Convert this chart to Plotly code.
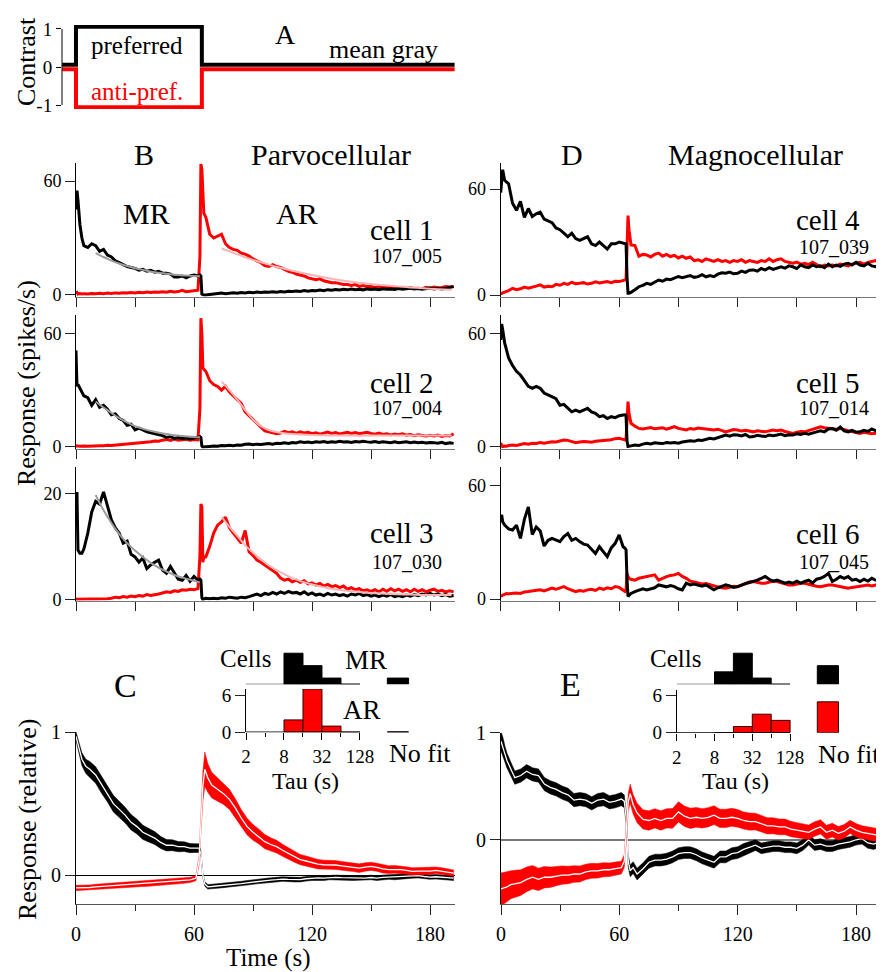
import numpy as np
import plotly.graph_objects as go

# page is photographed at 884x972; the browser adds an 8 px body margin
PAGE_W, PAGE_H, OFF = 884, 972, 8
W, H = PAGE_W - OFF, PAGE_H - OFF
FONT = "Liberation Serif"

# ---------------- data ----------------
# Panel A: stimulus contrast
A_T = [-7, 0, 0, 64, 64, 192.5]
A_PREF = [0, 0, 1, 1, 0, 0]
A_ANTI = [0, 0, -1, -1, 0, 0]

# time grid of single-cell traces (s)
T = [0, 0.5, 1, 2, 3, 4] + list(range(6, 63, 2)) + [63, 63.5, 64, 64.5, 65, 66] + list(range(68, 193, 2))

cell1_pref = [45, 55, 50, 37, 30, 26,
              25, 27, 26, 23, 24, 21, 20, 18, 17, 16,
              15, 14.5, 14, 13, 13.5, 12.5, 13, 12, 12.5, 11.5,
              11.5, 11, 9.5, 9.5, 10, 9, 10, 10.5, 10,
              10.5, 10, 0.5, 0, 0, 0,
              0.3, 0.5, 0.8, 1, 0.7, 1, 1.2, 0.9, 1.3, 1.1,
              1.4, 1.2, 1.5, 1.3, 1.6, 1.4, 1.7, 1.5, 1.8, 1.6,
              2, 1.8, 2.1, 1.9, 2.3, 2, 2.4, 2.2, 2.6, 2.3,
              2.8, 2.5, 2.9, 2.6, 3, 2.7, 3.1, 2.8, 3, 2.7,
              3.2, 2.9, 3.1, 2.8, 3.3, 3, 3.2, 2.9, 3.4, 3,
              3.2, 3.5, 3.1, 3.4, 3, 3.3, 3.6, 3.2, 3.5, 3.1,
              3.4, 4, 4.4]
cell1_anti = [2, 1.5, 0.5, 0.8, 0.5, 0.7,
              0.5, 0.8, 0.6, 0.9, 0.7, 1, 0.8, 1.1, 0.9, 1.2,
              1, 1.3, 1.1, 1.4, 1.2, 1.5, 1.3, 1.6, 1.4, 1.7,
              1.5, 2, 1.6, 1.8, 2.5, 1.7, 1.9, 2.2, 2.5,
              20, 69, 66, 50, 43, 41,
              32, 30, 31, 32, 27, 25, 24, 23.5, 22, 21.5,
              20.5, 19, 18, 17, 15.5, 15, 16, 15, 14.5, 13.5,
              12.5, 12, 11, 10.5, 10, 9, 8.5, 8, 8.5, 7.5,
              7, 6.5, 6.5, 6, 5.5, 5.5, 5, 5.5, 4.5, 5,
              4.5, 4.5, 4, 4.5, 4, 4.2, 3.8, 4, 3.5, 3.8,
              3.5, 3.8, 3.4, 3.6, 3.3, 4, 3.6, 4.2, 3.8, 4,
              4.5, 4.2, 4.5]
cell2_pref = [51, 32, 33, 31, 29, 27,
              26, 22, 25, 21, 22, 20, 17, 17.5, 15, 14,
              11.5, 12, 9, 10, 9, 8, 7.5, 7, 6.5, 6,
              5, 5.5, 4.5, 5, 4.5, 4.8, 4.2, 4.8, 5.5,
              5.5, 5, 0.5, 0, 0, 0.2,
              0.3, 0.5, 0.4, 0.8, 0.6, 0.9, 0.7, 1, 0.9, 1.4,
              1.6, 1.2, 1.5, 1.3, 1.6, 1.8, 1.5, 2, 1.8, 2.2,
              1.9, 2.4, 2.1, 2.8, 2.4, 2.6, 2.2, 2.7, 2.5, 2.9,
              2.4, 2.8, 2.5, 3, 2.6, 2.8, 2.4, 2.9, 2.6, 3,
              2.7, 2.5, 2.9, 2.4, 2.8, 2.5, 2.3, 2.7, 2.2, 2.5,
              2.8, 2.3, 2.6, 2.2, 2.5, 2.1, 2.4, 2.3, 2, 2.5,
              1.8, 2.2, 1.9]
cell2_anti = [0.5, 0.3, 0.5, 0.4, 0.6, 0.5,
              0.4, 0.6, 0.5, 0.7, 0.6, 0.9, 0.8, 1, 1.2, 1.1,
              1.5, 1.8, 1.9, 2.2, 2.5, 2.4, 2.8, 3.2, 3, 3.6,
              4, 3.5, 4.2, 3.6, 3.8, 4.1, 3.6, 3.9, 3.7,
              20, 68, 60, 42, 41, 40,
              35, 33, 32, 30, 32, 29, 27, 25.5, 23, 18.5,
              16.5, 14, 12, 10, 8.5, 8, 7.5, 7, 7.3, 8.2,
              7.5, 8, 7.2, 8, 7.4, 7.8, 7, 7.5, 6.8, 7.4,
              7.9, 7.2, 7.6, 6.9, 7.3, 7.8, 7.2, 7.6, 7, 7.4,
              7.8, 7.1, 6.8, 7.3, 6.6, 7, 6.4, 6.8, 6.5, 6.9,
              6.2, 6.6, 6, 6.5, 6.1, 5.8, 6.2, 5.8, 6.3, 5.6,
              6, 5.8, 7]
cell3_pref = [20, 20, 9.3, 8.7, 8.7, 9.5,
              12.5, 16.5, 18.5, 18, 20.3, 17.5, 15, 13.5, 12.5, 10.6,
              11, 8.5, 8, 7, 7.8, 5.8, 6.5, 7, 7.4, 5.5,
              4.9, 6.2, 5, 3.8, 3.6, 4.5, 3.4, 4.3, 3.6,
              3.8, 3.6, 0.3, 0, 0.1, 0.2,
              0.1, 0.2, 0.1, 0.3, 0.2, 0.4, 0.3, 0.2, 0.4, 0.3,
              0.5, 0.8, 1, 0.7, 1.1, 0.9, 1.3, 1, 1.4, 1.1,
              1.5, 1.2, 1.3, 1, 1.4, 0.9, 1.2, 0.8, 1, 0.7,
              1.1, 0.8, 1, 0.7, 0.9, 0.6, 1, 0.8, 1.1, 0.7,
              0.9, 0.6, 0.8, 0.5, 0.8, 0.6, 0.9, 0.5, 0.7, 0.5,
              0.8, 0.6, 0.9, 0.7, 1, 0.8, 1.1, 0.8, 1, 0.7,
              0.9, 0.6, 0.7]
cell3_anti = [0, 0, 0, 0, 0, 0,
              0, 0, 0, 0, 0, 0.1, 0.2, 0.4, 0.3, 0.5,
              0.4, 0.6, 0.5, 0.7, 0.6, 0.9, 0.7, 0.8, 1, 1.2,
              1.4, 1.3, 1.6, 1.5, 1.8, 1.7, 1.9, 1.8, 2,
              8, 18, 17.5, 7, 8, 8,
              10, 12.5, 14, 14.6, 15.5, 13.5, 12.5, 11.5, 10.6, 13,
              9, 8.3, 7.4, 7, 6.5, 6, 5.5, 4.9, 4, 3.6,
              3.8, 3.3, 3.6, 3.2, 3.5, 2.9, 3.1, 2.7, 3, 2.5,
              2.8, 2.4, 2.6, 2.2, 2.5, 1.9, 2.2, 1.8, 2, 1.6,
              1.8, 1.5, 1.8, 1.4, 1.9, 1.5, 2, 1.6, 1.9, 1.5,
              1.8, 1.4, 1.9, 1.5, 1.8, 1.4, 1.7, 1.9, 1.5, 1.7,
              1.4, 1.6, 1.4]
cell4_pref = [58, 67, 71, 65, 64, 63,
              52, 48, 53, 44, 49, 44.5, 46, 47, 43, 42,
              41, 38, 37, 35, 33, 35, 32, 31, 32, 33,
              29, 28, 30, 28, 26, 29, 29, 30, 29.5,
              29.4, 29, 10, 1, 1, 1.5,
              3, 4.7, 5.5, 6.6, 6, 7.5, 8.5, 7.8, 9, 8.7,
              9.5, 10.5, 9.8, 10.4, 11, 10, 10.4, 11.5, 10.3, 11,
              10.4, 11.8, 12.6, 12.3, 13, 12, 12.3, 13.5, 12.8, 14,
              14.2, 13.5, 15, 14.2, 15.5, 14.5, 15.2, 16, 15.2, 16.5,
              16, 15, 17, 16, 15.5, 17, 16, 16.5, 15.5, 17.5,
              16, 17, 16.2, 17.5, 18, 17, 18.5, 17, 16.5, 18,
              16.5, 16, 17.5]
cell4_anti = [1, 0.8, 1.2, 1.5, 1.9, 2.5,
              3.8, 3, 3.5, 4.5, 3.8, 4.2, 5, 5.7, 4.5, 5,
              4.7, 6, 5.5, 6.6, 6, 7.2, 6.4, 6.6, 7, 6.2,
              6.6, 7.5, 6.8, 7.2, 7.6, 7, 7.8, 7.6, 8,
              8.5, 9, 30, 45, 37, 28.4,
              28, 22, 23, 22.7, 21.5, 23, 23.7, 22, 23, 21.8,
              22.5, 21, 22, 20.8, 21.5, 19.5, 20, 19, 20.5, 19.9,
              19, 20, 19, 19.5, 18.5, 19.5, 19, 20, 18.5, 19.5,
              19, 18.5, 19.5, 19, 20.5, 19, 20, 20.5, 19, 18.5,
              18, 18.7, 17.5, 18, 17.2, 18.5, 17, 16, 17, 16.5,
              17, 16.5, 17.5, 17, 16.5, 17.5, 18, 18.5, 17.5, 18.5,
              19, 19.5, 18]
cell5_pref = [56.5, 65, 62, 55, 51, 47,
              43, 40, 38, 35, 32, 31, 32, 31, 28.5, 27.5,
              26.5, 25.5, 22, 22.5, 20.5, 18.6, 19.5, 18.6, 19.5, 20.4,
              18.5, 17.8, 16, 16.5, 15, 16, 15.5, 16.5, 16.9,
              17, 16.5, 3, 0.3, 0.5, 0.6,
              1, 0.8, 1.5, 2, 1.6, 2.2, 2, 1.8, 2.4, 2.1,
              2.3, 2, 2.6, 2.8, 3.3, 3, 3.7, 3.4, 4.2, 4.6,
              4.2, 5, 5.8, 6.3, 5.7, 6.5, 6.3, 5.8, 6.6, 5.3,
              5.5, 6.2, 5.8, 5.5, 6.3, 5.9, 6.3, 6.8, 6, 6.5,
              6.3, 7, 6.6, 7.2, 6.8, 7.6, 8, 8.5, 8, 9.5,
              9.8, 8.8, 10.5, 8.5, 8, 8.8, 7.8, 8, 8.8, 8.2,
              9.5, 8.6, 9.8]
cell5_anti = [2, 1, 0.2, 0.5, 0.4, 0.8,
              1, 0.8, 1.4, 1.8, 1.5, 2, 1.8, 2.3, 2, 2.5,
              2.8, 2.6, 3.1, 3.7, 3.5, 2.8, 2.3, 2.6, 2.9, 2.8,
              2.5, 3, 3.2, 3.7, 3.5, 3.8, 4.4, 4.6, 4,
              3.7, 4, 18, 24, 17.8, 12.5,
              11, 9.8, 9.5, 9.8, 10.3, 9.6, 9.8, 10.2, 9.4, 10,
              10.7, 9.8, 9.2, 9, 9.8, 9.4, 10, 9.8, 9.3, 9.5,
              9, 9.4, 8.6, 8, 8.6, 9.2, 9, 8.4, 8.8, 8.2,
              8, 8.6, 8.2, 8, 8.5, 9, 8.6, 9, 8.2, 7.8,
              7.2, 7.8, 8.2, 8, 8.6, 9.2, 10, 10.7, 10.2, 9.8,
              9.8, 9.4, 9.8, 9, 8.6, 8.2, 7.6, 7.2, 7.8, 7.4,
              7, 7.2, 7.5]
cell6_pref = [43.4, 44.3, 40.8, 39, 38, 37,
              36.4, 39, 32, 42, 48.6, 34, 38, 36, 28, 31,
              32, 31, 30.3, 33, 34.6, 31, 32, 30.3, 29, 28.5,
              26, 24, 27.6, 25, 22.4, 27, 29.4, 33.8, 27.6,
              26.8, 26, 10, 1.4, 2, 3,
              4, 4.9, 5.5, 4.9, 5.5, 6, 7.5, 7, 6.5, 7.2,
              6.6, 5.5, 4.9, 8.4, 7.5, 8, 7.5, 6.8, 7.5, 6,
              4.9, 6, 6.8, 7.5, 7, 6.2, 6.6, 7.5, 8.2, 8.8,
              9.3, 10, 11, 11.9, 10.5, 9.5, 10, 9, 8.4, 9,
              8.4, 9.5, 8.5, 9.3, 10, 8.5, 10.5, 11, 12, 13.6,
              9.3, 10.5, 11.9, 11, 11.9, 10, 10.5, 9.3, 10.5, 9.5,
              11, 10, 9.5]
cell6_anti = [1.4, 2, 2.2, 2.5, 3, 2.8,
              3, 3.2, 3, 3.8, 4, 4.3, 4.5, 4.9, 4.3, 5,
              5.8, 5.2, 6, 6.6, 5.5, 4.8, 4, 4.5, 4.2, 4.9,
              5.2, 4.6, 5.8, 5.2, 6, 5.5, 6.6, 6.2, 5,
              4, 4.5, 13.6, 12, 11, 10.5,
              10, 11, 11.5, 11.9, 12.2, 12.8, 10, 11, 11.9, 12.5,
              12.8, 13.6, 12, 11, 9.5, 9, 8.4, 8, 8.2, 7.5,
              7, 6.5, 6, 5.8, 6.2, 6.8, 6.6, 7.5, 8.5, 9,
              9.3, 8.8, 8.4, 8.4, 9, 9.5, 9.3, 8.8, 8, 7.5,
              7.5, 8, 8.4, 8.4, 7.8, 7, 6.8, 6.6, 7.2, 7.5,
              7.5, 7, 6.5, 6, 5.8, 6.2, 6.6, 6.6, 7, 7.5,
              7, 7.5, 7.5]

# exponential fits (parvocellular cells)
FIT_T_MR = [10, 13, 16, 20, 25, 30, 35, 40, 45, 50, 55, 60, 63]
FIT_T_AR = [74, 78, 82, 86, 90, 94, 98, 104, 110, 120, 130, 140, 150, 160, 170, 180, 191]
cell1_fit_mr = [22, 20.5, 19, 17.3, 15.5, 14.1, 13, 12, 11.3, 10.7, 10.3, 10, 9.8]
cell1_fit_ar = [24.5, 23, 21.4, 19.9, 18.5, 17.2, 16, 14.3, 12.8, 10.5, 8.6, 7, 5.8, 4.8, 4, 3.3, 2.7]
cell2_fit_mr = [24, 21.6, 19.5, 16.5, 13.5, 11, 9.3, 8, 7, 6.2, 5.7, 5.3, 5.1]
cell2_fit_ar = [34.5, 30, 25, 19.5, 14.5, 11, 9, 7.5, 6.8, 6.3, 6.1, 6, 6, 6, 6, 6, 6]
cell3_fit_mr = [19.7, 17.5, 15.6, 13.3, 11, 9.2, 7.7, 6.4, 5.4, 4.6, 4, 3.5, 3.2]
cell3_fit_ar = [15.6, 13.7, 12, 10.2, 8.8, 7.5, 6.4, 5.1, 4, 2.8, 2, 1.5, 1.2, 1, 0.9, 0.8, 0.8]

# population averages (relative response), mean and s.e.m.
TC = [0, 1, 2, 3, 5, 7] + list(range(10, 62, 3)) + [62.5, 63.5, 64.5, 65.5, 67] + list(range(69, 193, 3))
parvo_pref_mean = [0.97, 0.92, 0.86, 0.81, 0.76, 0.74,
                   0.7, 0.63, 0.57, 0.5, 0.46, 0.42, 0.37, 0.34, 0.3, 0.28,
                   0.26, 0.23, 0.21, 0.21, 0.2, 0.2, 0.19, 0.19,
                   0.19, 0.15, 0.0, -0.06, -0.08,
                   -0.078, -0.075, -0.07, -0.065, -0.062, -0.058, -0.052, -0.046, -0.042, -0.037,
                   -0.033, -0.03, -0.026, -0.028, -0.03, -0.03, -0.024, -0.02, -0.018, -0.02,
                   -0.015, -0.014, -0.016, -0.018, -0.02, -0.018, -0.019, -0.015, -0.02, -0.014,
                   -0.012, -0.015, -0.012, -0.008, -0.004, -0.002, -0.008, -0.012, -0.01, -0.014,
                   -0.016, -0.02]
parvo_pref_sem = [0.03, 0.035, 0.04, 0.045, 0.05, 0.055,
                  0.058, 0.058, 0.058, 0.058, 0.056, 0.055, 0.054, 0.052, 0.05, 0.048,
                  0.045, 0.042, 0.04, 0.038, 0.036, 0.034, 0.032, 0.03,
                  0.03, 0.02, 0.016, 0.016, 0.016,
                  0.016, 0.016, 0.016, 0.016, 0.016, 0.016, 0.016, 0.016, 0.016, 0.016,
                  0.016, 0.016, 0.016, 0.016, 0.016, 0.016, 0.016, 0.016, 0.016, 0.016,
                  0.016, 0.016, 0.016, 0.016, 0.016, 0.016, 0.016, 0.016, 0.016, 0.016,
                  0.016, 0.016, 0.016, 0.016, 0.016, 0.016, 0.016, 0.016, 0.016, 0.016,
                  0.016, 0.016]
parvo_anti_mean = [-0.088, -0.088, -0.087, -0.087, -0.086, -0.085,
                   -0.08, -0.077, -0.075, -0.072, -0.07, -0.068, -0.065, -0.063, -0.06, -0.058,
                   -0.055, -0.052, -0.049, -0.046, -0.042, -0.038, -0.032, -0.02,
                   0.1, 0.35, 0.62, 0.74, 0.68,
                   0.63, 0.6, 0.57, 0.53, 0.47, 0.4, 0.34, 0.3, 0.27, 0.235,
                   0.215, 0.2, 0.175, 0.155, 0.13, 0.11, 0.1, 0.088, 0.078, 0.074,
                   0.074, 0.072, 0.066, 0.062, 0.056, 0.05, 0.058, 0.063, 0.056, 0.045,
                   0.04, 0.042, 0.04, 0.034, 0.028, 0.03, 0.028, 0.03, 0.035, 0.03,
                   0.022, 0.016]
parvo_anti_sem = [0.018, 0.018, 0.018, 0.018, 0.018, 0.018,
                  0.018, 0.018, 0.018, 0.018, 0.018, 0.018, 0.018, 0.018, 0.018, 0.018,
                  0.018, 0.018, 0.018, 0.018, 0.018, 0.018, 0.018, 0.018,
                  0.03, 0.06, 0.1, 0.12, 0.1,
                  0.09, 0.08, 0.075, 0.07, 0.065, 0.06, 0.058, 0.055, 0.052, 0.05,
                  0.047, 0.045, 0.042, 0.04, 0.038, 0.036, 0.035, 0.034, 0.033, 0.032,
                  0.032, 0.031, 0.031, 0.03, 0.03, 0.03, 0.029, 0.029, 0.028, 0.028,
                  0.027, 0.027, 0.026, 0.026, 0.025, 0.025, 0.024, 0.024, 0.023, 0.023,
                  0.022, 0.022]
magno_pref_mean = [0.92, 0.87, 0.8, 0.74, 0.66, 0.58,
                   0.6, 0.64, 0.61, 0.6, 0.52, 0.49, 0.47, 0.44, 0.42, 0.37,
                   0.38, 0.37, 0.34, 0.37, 0.38, 0.35, 0.36, 0.38,
                   0.36, 0.2, -0.2, -0.29, -0.26,
                   -0.32, -0.27, -0.21, -0.19, -0.19, -0.18, -0.16, -0.13, -0.12, -0.12,
                   -0.14, -0.17, -0.19, -0.21, -0.16, -0.16, -0.13, -0.12, -0.09, -0.07,
                   -0.05, -0.08, -0.07, -0.06, -0.06, -0.07, -0.07, -0.08, -0.05, 0.0,
                   -0.05, -0.04, -0.06, -0.06, -0.04, -0.03, -0.02, 0.0, 0.01, -0.03,
                   -0.04, -0.02]
magno_pref_sem = [0.09, 0.085, 0.075, 0.07, 0.065, 0.062,
                  0.062, 0.062, 0.062, 0.062, 0.062, 0.062, 0.062, 0.062, 0.062, 0.062,
                  0.062, 0.062, 0.062, 0.062, 0.062, 0.062, 0.062, 0.062,
                  0.06, 0.055, 0.055, 0.055, 0.055,
                  0.055, 0.055, 0.055, 0.055, 0.055, 0.055, 0.055, 0.055, 0.055, 0.055,
                  0.055, 0.055, 0.055, 0.055, 0.055, 0.055, 0.055, 0.055, 0.055, 0.055,
                  0.05, 0.05, 0.05, 0.05, 0.05, 0.05, 0.05, 0.05, 0.05, 0.05,
                  0.05, 0.05, 0.05, 0.05, 0.05, 0.05, 0.05, 0.05, 0.05, 0.05,
                  0.05, 0.05]
magno_anti_mean = [-0.46, -0.455, -0.45, -0.44, -0.42, -0.41,
                   -0.4, -0.37, -0.35, -0.37, -0.35, -0.35, -0.34, -0.33, -0.33, -0.32,
                   -0.32, -0.3, -0.29, -0.29, -0.28, -0.28, -0.27, -0.26,
                   -0.2, 0.1, 0.35, 0.43, 0.33,
                   0.25, 0.19, 0.18, 0.2, 0.18, 0.2, 0.2, 0.26, 0.22, 0.2,
                   0.21, 0.2, 0.21, 0.23, 0.2, 0.2, 0.21, 0.2, 0.18, 0.17,
                   0.17, 0.15, 0.13, 0.13, 0.12, 0.12, 0.1, 0.09, 0.08, 0.07,
                   0.1, 0.12, 0.07, 0.09, 0.06, 0.08, 0.12, 0.09, 0.07, 0.06,
                   0.05, 0.04]
magno_anti_sem = [0.15, 0.15, 0.145, 0.14, 0.13, 0.125,
                  0.12, 0.115, 0.11, 0.105, 0.1, 0.095, 0.09, 0.086, 0.082, 0.078,
                  0.075, 0.072, 0.07, 0.068, 0.066, 0.064, 0.062, 0.06,
                  0.06, 0.07, 0.08, 0.09, 0.09,
                  0.09, 0.09, 0.09, 0.09, 0.09, 0.09, 0.092, 0.095, 0.095, 0.095,
                  0.092, 0.09, 0.09, 0.088, 0.086, 0.085, 0.084, 0.082, 0.08, 0.08,
                  0.078, 0.077, 0.076, 0.075, 0.074, 0.073, 0.072, 0.07, 0.07, 0.068,
                  0.068, 0.067, 0.066, 0.065, 0.064, 0.063, 0.062, 0.062, 0.061, 0.06,
                  0.06, 0.06]

# histograms of time constants (bins start, in s; width = factor 2)
TAU_BIN_LO = [8, 16, 32, 64]
parvo_mr_counts = [5, 3, 1, 0]
parvo_ar_counts = [2, 7, 1, 0]
magno_mr_counts = [2, 5, 1, 0]
magno_ar_counts = [0, 1, 3, 2]
parvo_mr_nofit, parvo_ar_nofit = 1, 0
magno_mr_nofit, magno_ar_nofit = 3, 5
TAU_TICKS = [2, 8, 32, 128]
TAU_MINOR = [4, 16, 64]

# ---------------- helpers (positions given in page pixels) ----------------
def PX(x):
    return (x - OFF) / W

def PY(y):
    return 1 - (y - OFF) / H

def names(n):
    s = '' if n == 1 else str(n)
    return 'xaxis' + s, 'yaxis' + s, 'x' + s, 'y' + s

BASE = dict(showgrid=False, zeroline=False, showline=False, ticks='', showticklabels=False,
            automargin=False, fixedrange=True, tickfont=dict(family=FONT, size=18, color='black'))

layout_axes = {}
def add_axes(n, xpx, ypx, xr, yr, xo=None, yo=None):
    xn, yn, xr_, yr_ = names(n)
    xa = dict(BASE, domain=[PX(xpx[0]), PX(xpx[1])], range=xr, anchor=yr_)
    ya = dict(BASE, domain=[PY(ypx[1]), PY(ypx[0])], range=yr, anchor=xr_)
    if xo:
        xa.update(xo)
    if yo:
        ya.update(yo)
    layout_axes[xn] = xa
    layout_axes[yn] = ya
    return xr_, yr_

fig = go.Figure()
shapes = []
anns = []

def ann(x, y, text, size, color='black', angle=0, xanchor='center'):
    anns.append(dict(x=PX(x), y=PY(y), xref='paper', yref='paper', text=text, showarrow=False,
                     font=dict(family=FONT, size=size, color=color), textangle=angle,
                     xanchor=xanchor, yanchor='middle'))

RED = '#ff0000'

# ---------------- panel A ----------------
xa, ya = add_axes(1, (62, 455), (25, 109), [-7.1, 192.7], [-1.105, 1.105],
                  yo=dict(ticks='outside', ticklen=5, tickcolor='black', showticklabels=True,
                          tickvals=[-1, 0, 1], ticktext=['-1', '0', '1'],
                          tickfont=dict(family=FONT, size=19, color='black')))
fig.add_trace(go.Scatter(x=A_T, y=[v - 0.06 for v in A_ANTI], xaxis=xa, yaxis=ya, mode='lines',
                         line=dict(color=RED, width=4), hoverinfo='skip'))
fig.add_trace(go.Scatter(x=A_T, y=[v + 0.06 for v in A_PREF], xaxis=xa, yaxis=ya, mode='lines',
                         line=dict(color='black', width=4), hoverinfo='skip'))
shapes.append(dict(type='line', xref='paper', yref='y', x0=PX(62), x1=PX(62), y0=-1, y1=1,
                   line=dict(color='black', width=1)))

# ---------------- panels B and D (single cells) ----------------
cells = [
    (2, (76, 455), (163, 296.5), [0, 192.7], [-0.8, 69.5], [0, 60], cell1_pref, cell1_anti, cell1_fit_mr, cell1_fit_ar),
    (3, (76, 455), (315, 448.5), [0, 192.7], [-0.8, 69.7], [0, 60], cell2_pref, cell2_anti, cell2_fit_mr, cell2_fit_ar),
    (4, (76, 455), (467, 600.6), [0, 192.7], [-0.25, 25], [0, 20], cell3_pref, cell3_anti, cell3_fit_mr, cell3_fit_ar),
    (5, (500.7, 880.5), (163, 296.5), [0, 192.4], [-0.85, 74.8], [0, 60], cell4_pref, cell4_anti, None, None),
    (6, (500.7, 880.5), (315, 448.5), [0, 192.4], [-0.8, 69.7], [0, 60], cell5_pref, cell5_anti, None, None),
    (7, (500.7, 880.5), (467, 600.5), [0, 192.4], [-0.7, 69.6], [0, 60], cell6_pref, cell6_anti, None, None),
]
for n, xpx, ypx, xr, yr, yt, pref, anti, fmr, far in cells:
    xa, ya = add_axes(n, xpx, ypx, xr, yr,
                      xo=dict(showline=True, linecolor='#777', linewidth=1, ticks='outside', ticklen=9,
                              tickcolor='#222', tickvals=[0, 30, 60, 90, 120, 150, 180]),
                      yo=dict(showline=True, linecolor='black', linewidth=1, ticks='outside', ticklen=10,
                              tickcolor='#222', tickvals=yt, showticklabels=True,
                              tickfont=dict(family=FONT, size=18, color='black')))
    fig.add_trace(go.Scatter(x=T, y=anti, xaxis=xa, yaxis=ya, mode='lines',
                             line=dict(color=RED, width=3), hoverinfo='skip'))
    fig.add_trace(go.Scatter(x=T, y=pref, xaxis=xa, yaxis=ya, mode='lines',
                             line=dict(color='black', width=3), hoverinfo='skip'))
    if fmr is not None:
        fig.add_trace(go.Scatter(x=FIT_T_MR, y=fmr, xaxis=xa, yaxis=ya, mode='lines',
                                 line=dict(color='#9c9c9c', width=2, shape='spline'), hoverinfo='skip'))
        fig.add_trace(go.Scatter(x=FIT_T_AR, y=far, xaxis=xa, yaxis=ya, mode='lines',
                                 line=dict(color='#f7b6b6', width=2, shape='spline'), hoverinfo='skip'))

# ---------------- panels C and E (population) ----------------
def band(xa, ya, mean, sem, color):
    m = np.array(mean)
    s = np.array(sem)
    up = m + s
    lo = m - s
    fig.add_trace(go.Scatter(x=TC + TC[::-1], y=list(up) + list(lo[::-1]), xaxis=xa, yaxis=ya,
                             mode='lines', fill='toself', fillcolor=color, line=dict(width=0.5, color=color),
                             hoverinfo='skip'))
    fig.add_trace(go.Scatter(x=TC, y=mean, xaxis=xa, yaxis=ya, mode='lines',
                             line=dict(color='white', width=1.3), hoverinfo='skip'))

time_ticks = dict(showline=True, linecolor='#555', linewidth=1, ticks='outside', ticklen=10, tickcolor='#222',
                  tickvals=[0, 60, 120, 180], ticktext=['0', '60', '120', '180'],
                  minor=dict(tickvals=[30, 90, 150], ticks='outside', ticklen=6, tickcolor='#222'),
                  showticklabels=True, tickfont=dict(family=FONT, size=20, color='black'), ticklabelstandoff=2)
xa, ya = add_axes(8, (76, 455), (732, 904), [0, 192.7], [-0.2, 1.0], xo=time_ticks,
                  yo=dict(showline=True, linecolor='black', linewidth=1, ticks='outside', ticklen=10, tickcolor='#222',
                          tickvals=[0, 1], showticklabels=True, zeroline=True, zerolinecolor='black', zerolinewidth=1,
                          tickfont=dict(family=FONT, size=20, color='black')))
band(xa, ya, parvo_pref_mean, parvo_pref_sem, 'black')
band(xa, ya, parvo_anti_mean, parvo_anti_sem, RED)

xa, ya = add_axes(9, (501, 880.5), (732.7, 904), [0, 192.4], [-0.6, 1.0], xo=time_ticks,
                  yo=dict(showline=True, linecolor='black', linewidth=1, ticks='outside', ticklen=10, tickcolor='#222',
                          tickvals=[0, 1], showticklabels=True, zeroline=True, zerolinecolor='#777', zerolinewidth=1.5,
                          tickfont=dict(family=FONT, size=20, color='black')))
band(xa, ya, magno_pref_mean, magno_pref_sem, 'black')
band(xa, ya, magno_anti_mean, magno_anti_sem, RED)

# ---------------- inset histograms ----------------
centers = list(np.log2(TAU_BIN_LO) + 0.5)
NOFIT_X = 9.0
hist_x_ticks = dict(ticks='outside', ticklen=7, tickcolor='black', tickvals=list(np.log2(TAU_TICKS)),
                    ticktext=[str(v) for v in TAU_TICKS], showticklabels=True, ticklabelstandoff=0,
                    tickfont=dict(family=FONT, size=19, color='black'),
                    minor=dict(tickvals=list(np.log2(TAU_MINOR)), ticks='outside', ticklen=4, tickcolor='black'))
hist_y = dict(showline=True, linecolor='black', linewidth=1, ticks='outside', ticklen=10, tickcolor='#222',
              tickvals=[0, 6], showticklabels=True, tickfont=dict(family=FONT, size=19, color='black'))

insets = [
    (10, 11, (246, 420), [1, 10.16], parvo_mr_counts, parvo_ar_counts, parvo_mr_nofit, parvo_ar_nofit, 688.9, 732.3),
    (12, 13, (676.7, 850), [1, 10.17], magno_mr_counts, magno_ar_counts, magno_mr_nofit, magno_ar_nofit, 689.5, 732.7),
]
for nm, na, xpx, xr, mrc, arc, mrn, arn, ytop, ybot in insets:
    xm, ym = add_axes(nm, xpx, (647, 684.3), xr, [0, 6])
    xa2, ya2 = add_axes(na, xpx, (ytop, ybot), xr, [0, 7], xo=hist_x_ticks, yo=hist_y)
    fig.add_trace(go.Bar(x=centers, y=mrc, width=[1] * len(centers), xaxis=xm, yaxis=ym,
                         marker=dict(color='black', line=dict(color='black', width=1)), hoverinfo='skip'))
    fig.add_trace(go.Bar(x=[NOFIT_X], y=[mrn], width=[1.12], xaxis=xm, yaxis=ym,
                         marker=dict(color='black', line=dict(color='black', width=1)), hoverinfo='skip'))
    fig.add_trace(go.Bar(x=centers, y=arc, width=[1] * len(centers), xaxis=xa2, yaxis=ya2,
                         marker=dict(color=RED, line=dict(color='#300', width=1)), hoverinfo='skip'))
    fig.add_trace(go.Bar(x=[NOFIT_X], y=[arn], width=[1.12], xaxis=xa2, yaxis=ya2,
                         marker=dict(color=RED, line=dict(color='#300', width=1)), hoverinfo='skip'))
    shapes.append(dict(type='line', xref=xm, yref=ym, x0=1, x1=7, y0=0, y1=0, line=dict(color='black', width=1)))
    shapes.append(dict(type='line', xref=xa2, yref=ya2, x0=1, x1=7, y0=0, y1=0, line=dict(color='black', width=1.5)))
    if arn == 0:
        shapes.append(dict(type='line', xref=xa2, yref=ya2, x0=NOFIT_X - 0.56, x1=NOFIT_X + 0.56, y0=0, y1=0,
                           line=dict(color='black', width=2)))

# ---------------- text ----------------
ann(26, 62, 'Contrast', 26, angle=-90)
ann(137, 46, 'preferred', 25)
ann(137, 91, 'anti-pref.', 25, color=RED)
ann(285, 34, 'A', 28)
ann(383, 50, 'mean gray', 26)

ann(144, 154, 'B', 30)
ann(331, 154, 'Parvocellular', 30)
ann(572, 154, 'D', 30)
ann(755, 154, 'Magnocellular', 30)
ann(146, 213, 'MR', 30)
ann(297, 213, 'AR', 30)

for (cx, cy, lab) in [(402, 230, 'cell 1'), (402, 383, 'cell 2'), (402, 533, 'cell 3'),
                      (828, 220, 'cell 4'), (828, 383, 'cell 5'), (828, 534, 'cell 6')]:
    ann(cx, cy, lab, 29)
ann(407, 256, '107_005', 20)
ann(407, 408, '107_004', 20)
ann(407, 562, '107_030', 20)
ann(834, 247, '107_039', 20)
ann(834, 408, '107_014', 20)
ann(834, 562, '107_045', 20)

ann(27, 383, 'Response (spikes/s)', 26, angle=-90)

ann(125, 685, 'C', 34)
ann(245, 658, 'Cells', 25)
ann(366, 660, 'MR', 27)
ann(362, 710, 'AR', 27)
ann(305, 781, 'Tau (s)', 24)
ann(420, 753, 'No fit', 26)

ann(570, 684, 'E', 34)
ann(675, 658, 'Cells', 25)
ann(735, 781, 'Tau (s)', 24)
ann(849, 754, 'No fit', 26)

ann(27, 820, 'Response (relative)', 26, angle=-90)
ann(268, 958, 'Time (s)', 25)

fig.update_layout(template='none', width=W, height=H,
                  margin=dict(l=0, r=0, t=0, b=0, autoexpand=False), showlegend=False,
                  paper_bgcolor='white', plot_bgcolor='rgba(0,0,0,0)', barmode='overlay',
                  font=dict(family=FONT, color='black'), shapes=shapes, annotations=anns,
                  **layout_axes)
fig.write_html('out.html')
